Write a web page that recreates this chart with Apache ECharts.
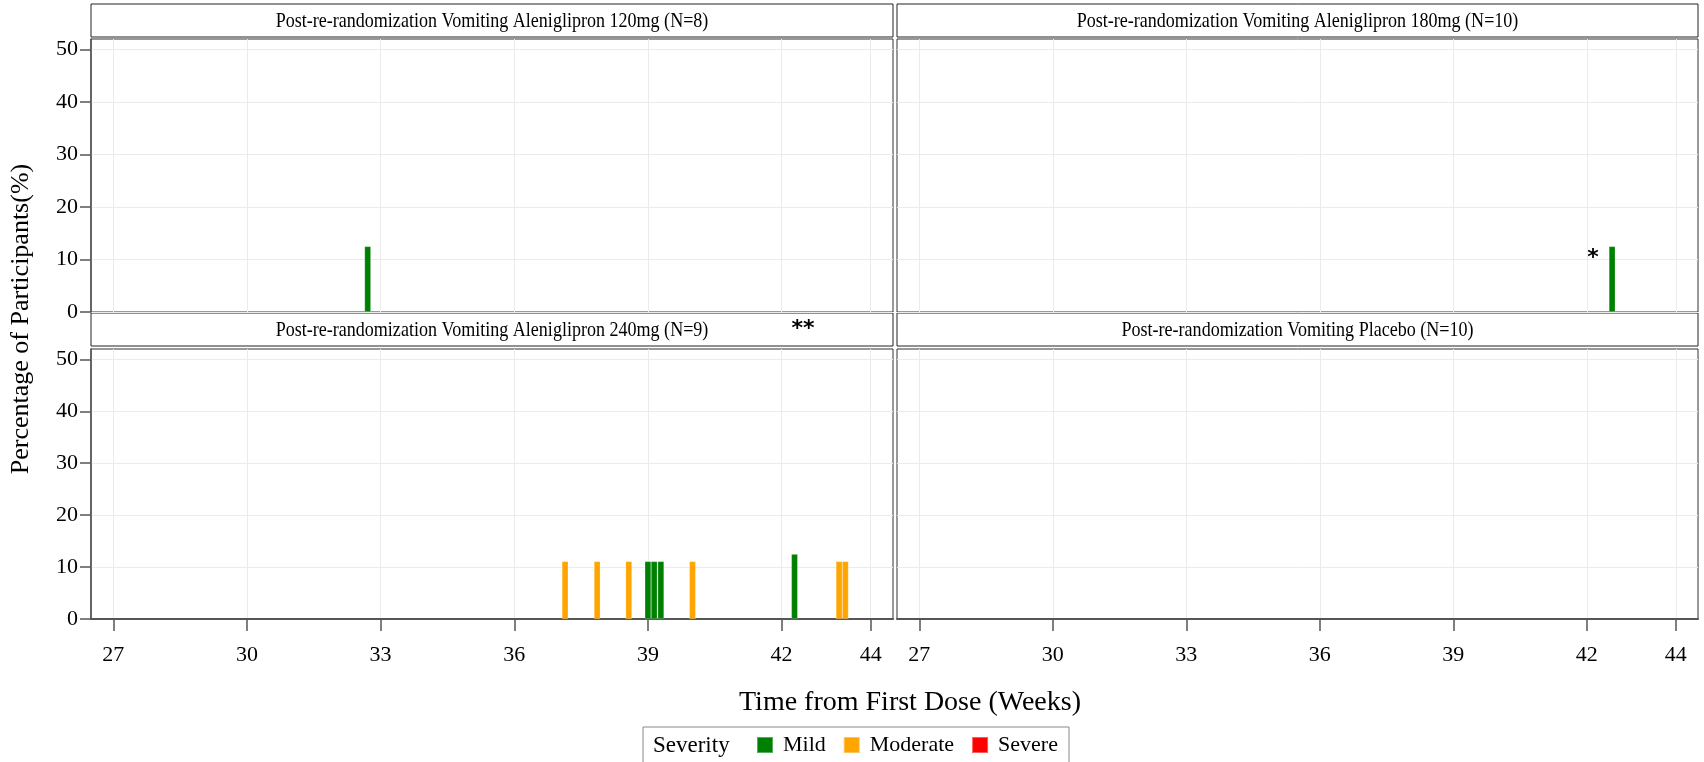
<!DOCTYPE html>
<html><head><meta charset="utf-8">
<script src="https://cdn.jsdelivr.net/npm/echarts@6/dist/echarts.min.js"></script>
<style>html,body{margin:0;padding:0;background:#fff}#c{width:1704px;height:762px}</style>
</head><body><div id="c"></div><script>
// ---- data ----
const panelTitles = [
  'Post-re-randomization Vomiting Aleniglipron 120mg (N=8)',
  'Post-re-randomization Vomiting Aleniglipron 180mg (N=10)',
  'Post-re-randomization Vomiting Aleniglipron 240mg (N=9)',
  'Post-re-randomization Vomiting Placebo (N=10)'
];
const weekTicks = [27, 30, 33, 36, 39, 42, 44];
const pctTicks = [0, 10, 20, 30, 40, 50];
const severities = ['Mild', 'Moderate', 'Severe'];
const severityColors = ['#008000', '#FFA500', '#FF0000'];
// [week, percentage]
const mild120 = [[32.71, 12.5]];
const moderate120 = [];
const mild180 = [[42.57, 12.5]];
const moderate180 = [];
const mild240 = [[39.00, 11.1], [39.14, 11.1], [39.29, 11.1], [42.29, 12.5]];
const moderate240 = [[37.14, 11.1], [37.86, 11.1], [38.57, 11.1], [40.00, 11.1], [43.29, 11.1], [43.43, 11.1]];
const mildPlacebo = [];
const moderatePlacebo = [];
const severe = [[], [], [], []];
const panelMild = [mild120, mild180, mild240, mildPlacebo];
const panelModerate = [moderate120, moderate180, moderate240, moderatePlacebo];
const annotations = ['*', '**'];

// ---- layout ----
const FONT = '"Liberation Serif", "Times New Roman", serif';
const grids = [
  {left: 91, top: 39, width: 802, height: 273},
  {left: 897, top: 39, width: 801, height: 273},
  {left: 91, top: 349, width: 802, height: 270},
  {left: 897, top: 349, width: 801, height: 270}
];
const headerBoxes = [
  {x: 91, y: 4, w: 802, h: 33},
  {x: 897, y: 4, w: 801, h: 33},
  {x: 91, y: 313, w: 802, h: 33},
  {x: 897, y: 313, w: 801, h: 33}
];

const xAxes = grids.map((g, i) => {
  const bottom = i >= 2;
  return {
    type: 'value', gridIndex: i, min: 26.5, max: 44.5,
    axisLine: {show: bottom, onZero: false, lineStyle: {color: '#555', width: 2}},
    axisTick: {show: bottom, customValues: weekTicks, length: 12, lineStyle: {color: '#555', width: 1.5}},
    axisLabel: {show: bottom, customValues: weekTicks, margin: 25, color: '#000', fontFamily: FONT, fontSize: 22},
    splitLine: {show: true, lineStyle: {color: '#ebebeb', width: 1}}
  };
});
const yAxes = grids.map((g, i) => {
  const left = (i % 2 === 0);
  return {
    type: 'value', gridIndex: i, min: 0, max: 52, interval: 10,
    axisLine: {show: left, lineStyle: {color: '#555', width: 1.5}},
    axisTick: {show: left, customValues: pctTicks, length: 11, lineStyle: {color: '#555', width: 1.5}},
    axisLabel: {show: left, customValues: pctTicks, margin: 13, color: '#000', fontFamily: FONT, fontSize: 22},
    splitLine: {show: true, lineStyle: {color: '#ebebeb', width: 1}}
  };
});

const series = [];
grids.forEach((g, i) => {
  const sets = [panelMild[i], panelModerate[i], severe[i]];
  sets.forEach((d, k) => {
    series.push({
      type: 'bar', name: severities[k], xAxisIndex: i, yAxisIndex: i,
      data: d, barWidth: 6.4, barGap: '-100%',
      itemStyle: {color: severityColors[k], borderColor: 'rgba(255,255,255,0.35)', borderWidth: 0.6},
      emphasis: {disabled: true}
    });
  });
});

const graphic = [];
headerBoxes.forEach((b, i) => {
  graphic.push({
    type: 'rect', shape: {x: b.x, y: b.y, width: b.w, height: b.h},
    style: {fill: '#fff', stroke: '#222', lineWidth: 1}
  });
  graphic.push({
    type: 'text', x: b.x + b.w / 2, y: b.y + b.h / 2 + 1, scaleX: 0.82,
    style: {text: panelTitles[i], fill: '#000', font: '22px ' + FONT, align: 'center', verticalAlign: 'middle'}
  });
});
// annotation marks
graphic.push({type: 'text', x: 1593, y: 258, style: {text: annotations[0], fill: '#000', font: 'bold 22px "DejaVu Sans", sans-serif', align: 'center', verticalAlign: 'middle'}});
graphic.push({type: 'text', x: 803, y: 329, style: {text: annotations[1], fill: '#000', font: 'bold 22px "DejaVu Sans", sans-serif', align: 'center', verticalAlign: 'middle'}});
// axis titles
graphic.push({type: 'text', x: 21, y: 319, rotation: Math.PI / 2,
  style: {text: 'Percentage of Participants(%)', fill: '#000', font: '26px ' + FONT, align: 'center', verticalAlign: 'middle'}});
graphic.push({type: 'text', x: 910, y: 703,
  style: {text: 'Time from First Dose (Weeks)', fill: '#000', font: '28px ' + FONT, align: 'center', verticalAlign: 'middle'}});
// legend frame + title
graphic.push({type: 'rect', shape: {x: 643, y: 727, width: 426, height: 40}, style: {fill: 'none', stroke: '#888', lineWidth: 1}});
graphic.push({type: 'text', x: 653, y: 746, style: {text: 'Severity', fill: '#000', font: '23px ' + FONT, align: 'left', verticalAlign: 'middle'}});

const chart = echarts.init(document.getElementById('c'), null, {renderer: 'canvas'});
chart.setOption({
  animation: false,
  backgroundColor: '#fff',
  grid: grids.map(g => Object.assign({show: true, borderColor: '#333', borderWidth: 1, backgroundColor: 'transparent', containLabel: false, outerBoundsMode: 'none'}, g)),
  xAxis: xAxes,
  yAxis: yAxes,
  legend: {
    data: severities, left: 756, top: 734, itemWidth: 16, itemHeight: 16, itemGap: 17,
    icon: 'rect', selectedMode: false, padding: 0,
    textStyle: {fontFamily: FONT, fontSize: 22, color: '#000', padding: [0, 0, 0, 5]}
  },
  series: series,
  graphic: graphic
});
</script></body></html>
